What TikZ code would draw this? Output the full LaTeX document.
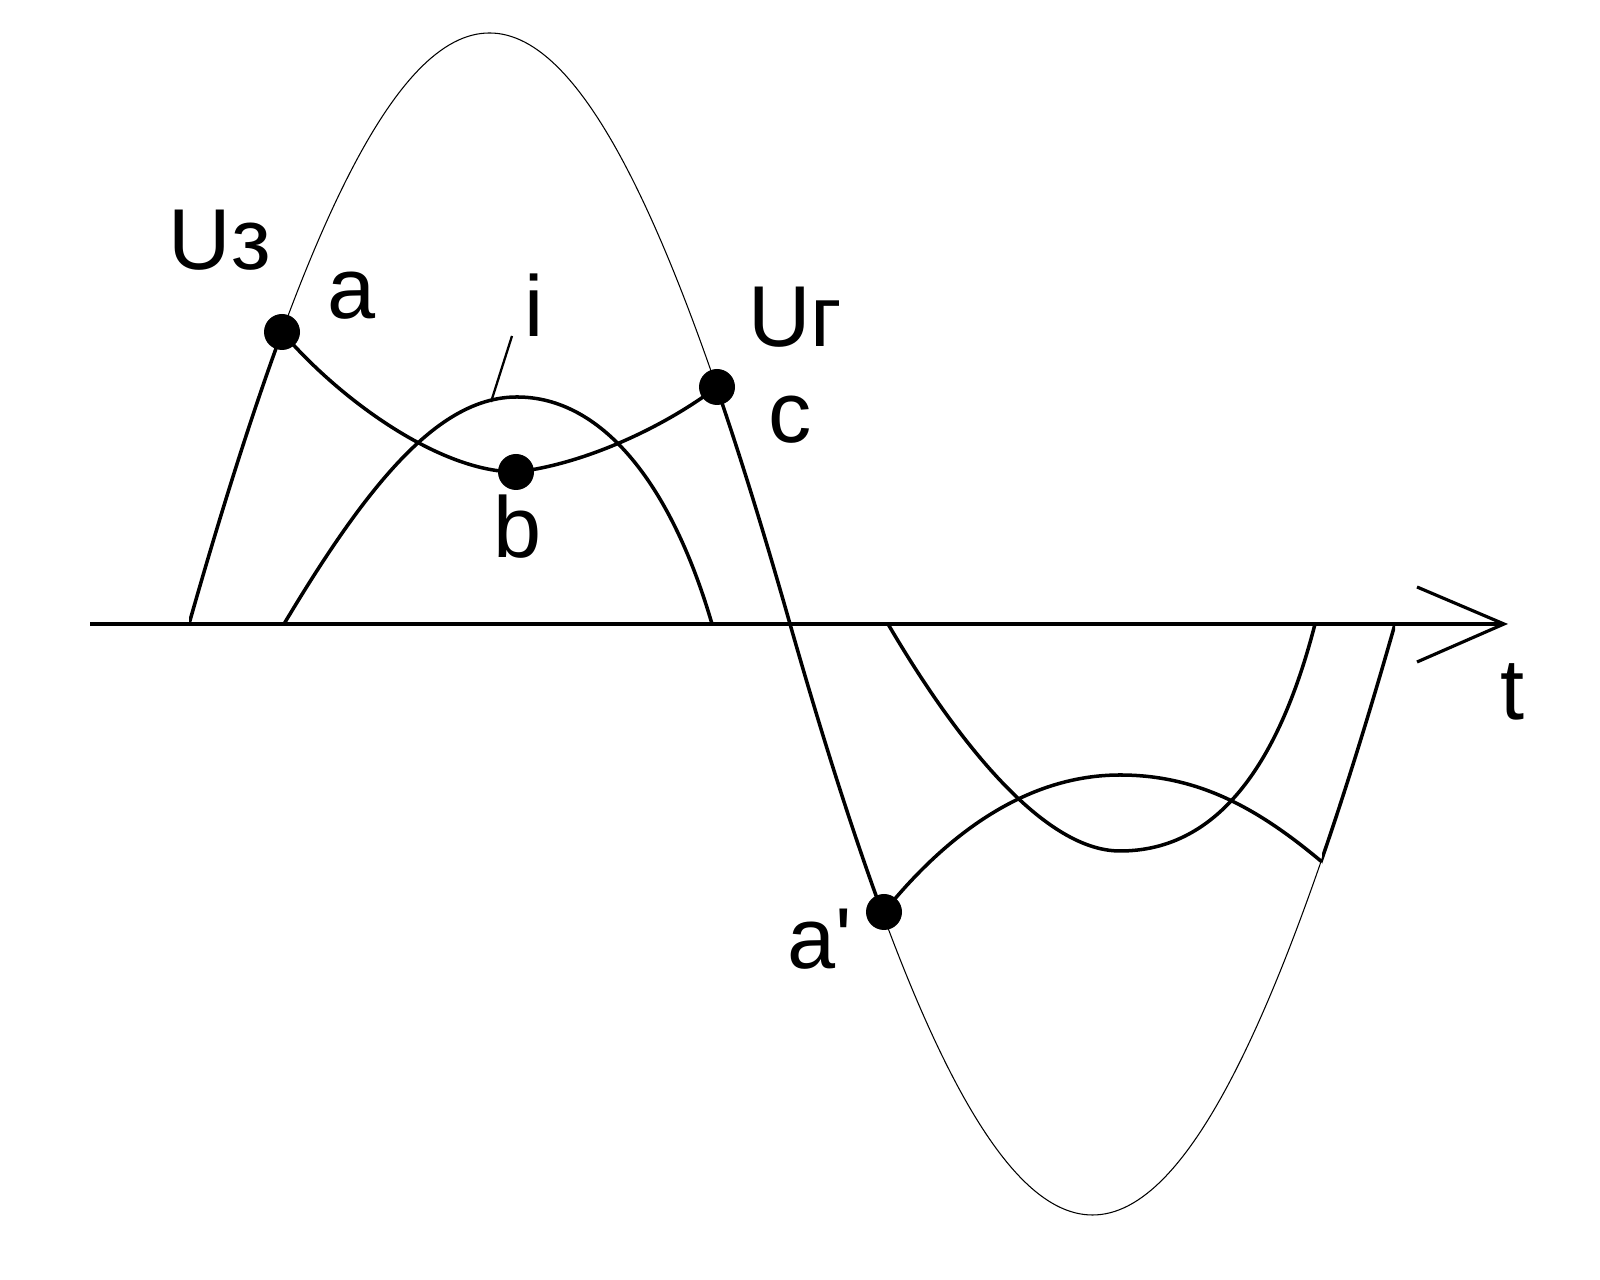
\documentclass[tikz,border=0pt]{standalone}
\usepackage{fontspec}
\setmainfont{Liberation Sans}
\begin{document}
\begin{tikzpicture}[
    lbl/.style={anchor=base, inner sep=0pt, font=\fontsize{24.6}{30}\selectfont},
    heavy/.style={line width=1pt},
    faint/.style={line width=0.3pt},
    axisline/.style={line width=0.9pt}
  ]
  \useasboundingbox (-0.90,-6.56) rectangle (15.10,6.24);

  % time axis with open arrow
  \coordinate (o) at (0,0);
  \coordinate (tip) at (14.14,0);
  \coordinate (wup) at (13.27,0.37);
  \coordinate (wdn) at (13.27,-0.38);
  \draw[axisline] (o) -- (tip);
  \draw[axisline] (wup) -- (tip) -- (wdn);

  % source voltage, thin, thick where it conducts
  \draw[faint] (0.99,0) .. controls (3.23,7.88) and (4.76,7.88) .. (7.00,0)
               .. controls (9.25,-7.88) and (10.80,-7.88) .. (13.05,0);
  \foreach \xl/\xr in {0.99/1.92, 6.27/7.94, 12.32/13.05}{
    \begin{scope}
      \clip (\xl,-7) rectangle (\xr,7);
      \draw[heavy] (0.99,0) .. controls (3.23,7.88) and (4.76,7.88) .. (7.00,0)
                   .. controls (9.25,-7.88) and (10.80,-7.88) .. (13.05,0);
    \end{scope}
  }

  \coordinate (a) at (1.92,2.92);
  \coordinate (b) at (4.26,1.52);
  \coordinate (c) at (6.27,2.37);
  \coordinate (a2) at (7.94,-2.88);
  \coordinate (e2) at (12.32,-2.38);

  % capacitor voltage
  \draw[heavy] (a) .. controls (2.50,2.24) and (3.50,1.52) .. (b)
               .. controls (4.90,1.59) and (5.70,1.94) .. (c);
  \draw[heavy] (a2) .. controls (8.60,-2.06) and (9.40,-1.51) .. (10.30,-1.51)
               .. controls (11.10,-1.51) and (11.70,-1.86) .. (e2);

  % current pulses
  \coordinate (i1) at (1.94,0);
  \coordinate (i2) at (6.22,0);
  \coordinate (i3) at (7.98,0);
  \coordinate (i4) at (12.25,0);
  \draw[heavy] (i1) .. controls (2.80,1.44) and (3.50,2.27) .. (4.27,2.27)
               .. controls (5.10,2.27) and (5.80,1.44) .. (i2);
  \draw[heavy] (i3) .. controls (8.60,-1.06) and (9.50,-2.27) .. (10.30,-2.27)
               .. controls (11.30,-2.27) and (11.90,-1.36) .. (i4);

  % leader of i
  \coordinate (ifoot) at (4.01,2.22);
  \coordinate (ihead) at (4.22,2.88);
  \draw[line width=0.65pt] (ifoot) -- (ihead);

  \foreach \p in {a, b, c, a2}{
    \fill (\p) circle (0.18);
  }

  \node[lbl] (uz) at (1.30,3.54) {Uз};
  \node[lbl] (la) at (2.62,3.05) {a};
  \node[lbl] (li) at (4.445,2.87) {i};
  \node[lbl] (ug) at (7.055,2.77) {Uг};
  \node[lbl] (lc) at (7.005,1.81) {c};
  \node[lbl] (lb) at (4.275,0.66) {b};
  \node[lbl] (la2) at (7.30,-3.45) {a\textquotesingle};
  \node[lbl] (lt) at (14.22,-0.96) {t};
\end{tikzpicture}
\end{document}
